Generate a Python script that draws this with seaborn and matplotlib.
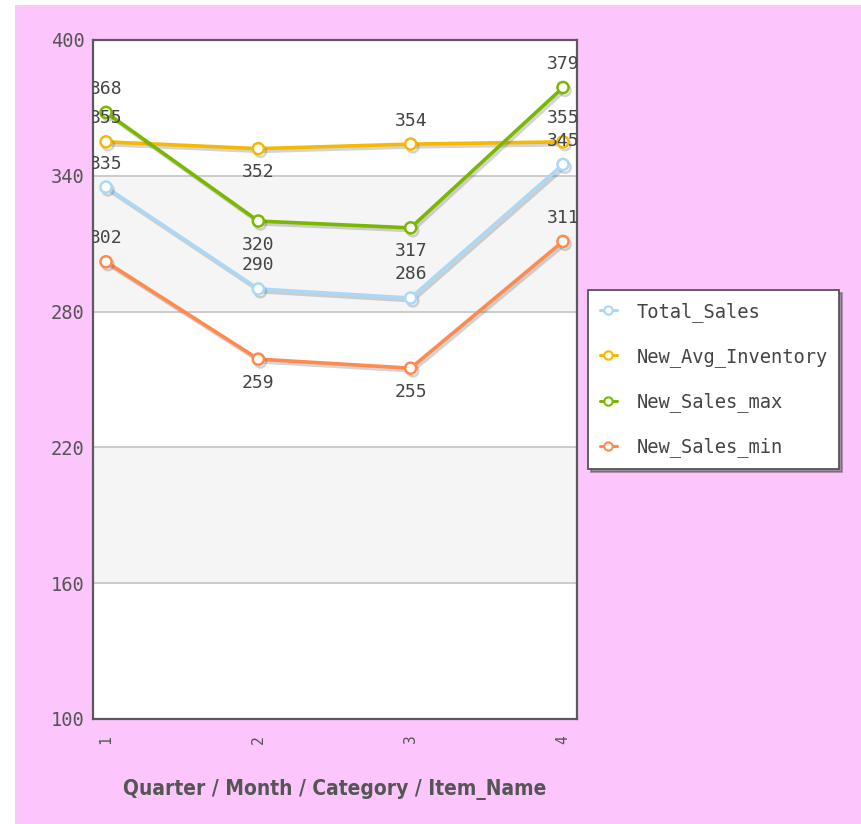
import matplotlib
matplotlib.use("Agg")
import matplotlib.pyplot as plt
import matplotlib.patheffects as pe
from matplotlib.patches import Rectangle
from matplotlib.lines import Line2D
import seaborn as sns
import pandas as pd

# Quarterly figures per series
quarters = [1, 2, 3, 4]
total_sales = [335, 290, 286, 345]
new_avg_inventory = [355, 352, 354, 355]
new_sales_max = [368, 320, 317, 379]
new_sales_min = [302, 259, 255, 311]

series_names = ["Total_Sales", "New_Avg_Inventory", "New_Sales_max", "New_Sales_min"]
series_values = [total_sales, new_avg_inventory, new_sales_max, new_sales_min]
series_colors = ["#aad8f6", "#f6b900", "#7ab800", "#ff8a4c"]
# +1 puts the value label above the point, -1 below
label_side = [
    [1, 1, 1, 1],
    [1, -1, 1, 1],
    [1, -1, -1, 1],
    [1, -1, -1, 1],
]
y_ticks = [100, 160, 220, 280, 340, 400]
x_title = "Quarter / Month / Category / Item_Name"

df = pd.DataFrame(
    [(q, name, v) for name, vals in zip(series_names, series_values) for q, v in zip(quarters, vals)],
    columns=["Quarter", "Series", "Value"],
)

sns.set_style("white")
plt.rcParams["font.family"] = ["DejaVu Sans Mono"]

W, H = 862, 824
fig = plt.figure(figsize=(W / 100, H / 100), dpi=100, facecolor="white")
fig.patches.append(Rectangle((15 / W, 0), 1 - 15 / W, 1 - 5 / H, transform=fig.transFigure,
                             facecolor="#fcc6fc", edgecolor="none", zorder=-5))

ax = fig.add_axes([93 / W, 1 - 719 / H, (577 - 93) / W, (719 - 40) / H])
ax.set_zorder(2)
ax.set_facecolor("white")

# alternating horizontal bands
for lo, hi in [(280, 340), (160, 220)]:
    ax.axhspan(lo, hi, color="#f5f5f5", zorder=0)
for y in y_ticks[1:-1]:
    ax.axhline(y, color="#c8c8c8", lw=1.3, zorder=1)

palette = dict(zip(series_names, series_colors))
sns.lineplot(data=df, x="Quarter", y="Value", hue="Series", palette=palette, ax=ax,
             lw=2.6, marker="o", markersize=8, markerfacecolor="white",
             markeredgewidth=1.8, legend=False, zorder=3)

shadow = [pe.SimpleLineShadow(offset=(1.5, -2), alpha=0.25, shadow_color="#555555"), pe.Normal()]
for line, c in zip(ax.get_lines()[-4:], series_colors):
    line.set_markeredgecolor(c)
    line.set_path_effects(shadow)

for vals, sides in zip(series_values, label_side):
    for q, v, s in zip(quarters, vals, sides):
        t = ax.annotate(str(v), (q, v), xytext=(0, 17 * s), textcoords="offset points",
                        ha="center", va="center", fontsize=13, color="#444444", zorder=5)
        t.set_clip_path(ax.patch)
        t.set_clip_on(True)

ax.set_xlim(1 - 13 / 152.3, 4 + 14 / 152.3)
ax.set_ylim(100, 400)
ax.set_yticks(y_ticks)
ax.set_xticks(quarters)
ax.set_xticklabels([str(q) for q in quarters], rotation=90)
ax.tick_params(axis="both", length=0, colors="#555555")
ax.tick_params(axis="y", labelsize=13.5, pad=6)
ax.tick_params(axis="x", labelsize=10.5, pad=12)
for sp in ax.spines.values():
    sp.set_visible(True)
    sp.set_color("#5a5a5a")
    sp.set_linewidth(1.6)
ax.set_ylabel("")
ax.set_xlabel(x_title, fontsize=15, fontweight="bold", color="#555555", labelpad=25,
              family="DejaVu Sans", fontstretch="condensed")

handles = [Line2D([0], [0], color=c, lw=2.2, marker="o", markersize=6,
                  markerfacecolor="white", markeredgecolor=c, markeredgewidth=1.5)
           for c in series_colors]
leg = fig.legend(handles, series_names, loc="upper left",
                 bbox_to_anchor=(588 / W, 1 - 290 / H), frameon=True, fancybox=False,
                 shadow=True, labelspacing=1.35, handlelength=0.9,
                 handletextpad=1.07, borderpad=0.62, borderaxespad=0,
                 prop={"family": "DejaVu Sans Mono", "size": 13.5})
leg.set_zorder(3)
leg.get_frame().set_edgecolor("#555555")
leg.get_frame().set_linewidth(1.3)
for txt in leg.get_texts():
    txt.set_color("#444444")

fig.savefig("out.png", dpi=100, facecolor=fig.get_facecolor())
